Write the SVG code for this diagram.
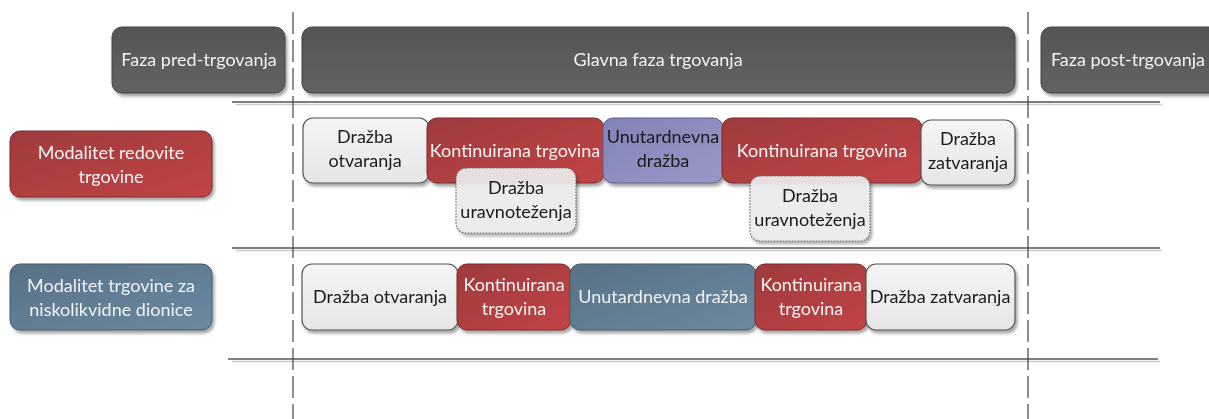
<svg xmlns="http://www.w3.org/2000/svg" width="1209" height="419" viewBox="0 0 1209 419">
<defs>
<linearGradient id="gDark" x1="0" y1="0" x2="0" y2="1"><stop offset="0" stop-color="#555"/><stop offset="1" stop-color="#626262"/></linearGradient>
<linearGradient id="gRed" x1="0" y1="0" x2="1" y2="1"><stop offset="0" stop-color="#9e3a3c"/><stop offset="1" stop-color="#c24446"/></linearGradient>
<linearGradient id="gBlue" x1="0" y1="0" x2="1" y2="1"><stop offset="0" stop-color="#577186"/><stop offset="1" stop-color="#6a8aa2"/></linearGradient>
<linearGradient id="gPurple" x1="0" y1="0" x2="1" y2="1"><stop offset="0" stop-color="#8282b6"/><stop offset="1" stop-color="#9898c8"/></linearGradient>
<linearGradient id="gLight" x1="0" y1="0" x2="0" y2="1"><stop offset="0" stop-color="#f4f4f4"/><stop offset="1" stop-color="#e6e6e6"/></linearGradient>
<filter id="sh" x="-10%" y="-10%" width="130%" height="140%"><feDropShadow dx="2" dy="3" stdDeviation="1.5" flood-color="#000" flood-opacity="0.35"/></filter>
</defs>
<style>
text{font-family:Lato,"Open Sans","Liberation Sans",sans-serif;font-size:18px;text-anchor:middle}
.w{fill:#f2f2f2}
.k{fill:#1a1a1a}
.dark{fill:url(#gDark);stroke:#444;stroke-width:1}
.red{fill:url(#gRed);stroke:#7a2c2e;stroke-width:1}
.blue{fill:url(#gBlue);stroke:#465a6a;stroke-width:1}
.purple{fill:url(#gPurple);stroke:#5e5e8a;stroke-width:1}
.light{fill:url(#gLight);stroke:#555;stroke-width:1.2}
.dot{fill:#eeeeee;fill-opacity:0.9;stroke:#666;stroke-width:1.2;stroke-dasharray:1.5 1.5}
.n{filter:url(#sh)}
.hl{stroke:#555;stroke-width:1.3}
.hs{stroke:#ccc;stroke-width:1.3}
.vl{stroke:#444;stroke-width:1.2;stroke-dasharray:22 6;fill:none}
</style>
<g id="connectors">
<line class="hs" x1="236" y1="104.5" x2="1162" y2="104.5"/>
<line class="hl" x1="232" y1="102" x2="1160" y2="102"/>
<line class="hs" x1="236" y1="250.5" x2="1162" y2="250.5"/>
<line class="hl" x1="232" y1="248" x2="1160" y2="248"/>
<line class="hs" x1="232" y1="361.5" x2="1160" y2="361.5"/>
<line class="hl" x1="228" y1="359" x2="1158" y2="359"/>
<line class="vl" x1="293" y1="12" x2="293" y2="419"/>
<line class="vl" x1="1028" y1="12" x2="1028" y2="419"/>
</g>
<g id="faza-pred" class="n"><rect class="dark" x="112" y="27" width="173" height="66" rx="10"/><text class="w" x="199" y="66">Faza pred-trgovanja</text></g>
<g id="glavna-faza" class="n"><rect class="dark" x="302" y="27" width="713" height="66" rx="10"/><text class="w" x="658" y="66">Glavna faza trgovanja</text></g>
<g id="faza-post" class="n"><rect class="dark" x="1041" y="27" width="180" height="66" rx="10"/><text class="w" x="1128" y="66">Faza post-trgovanja</text></g>

<g id="modalitet-redovite" class="n"><rect class="red" x="10" y="131" width="202" height="66" rx="10"/><text class="w" x="111" y="159">Modalitet redovite</text><text class="w" x="111" y="183">trgovine</text></g>
<g id="modalitet-nisko" class="n"><rect class="blue" x="10" y="264" width="202" height="66" rx="10"/><text class="w" x="111" y="292">Modalitet trgovine za</text><text class="w" x="111" y="316">niskolikvidne dionice</text></g>

<g id="r1-otvaranja" class="n"><rect class="light" x="303" y="118" width="126" height="65" rx="10"/><text class="k" x="365" y="143">Dražba</text><text class="k" x="365" y="167">otvaranja</text></g>
<g id="r1-kont1" class="n"><rect class="red" x="427" y="118" width="177" height="65" rx="10"/><text class="w" x="515" y="157">Kontinuirana trgovina</text></g>
<g id="r1-unutardnevna" class="n"><rect class="purple" x="603" y="118" width="120" height="65" rx="10"/><text class="k" x="663" y="143">Unutardnevna</text><text class="k" x="663" y="167">dražba</text></g>
<g id="r1-kont2" class="n"><rect class="red" x="722" y="118" width="200" height="65" rx="10"/><text class="w" x="822" y="157">Kontinuirana trgovina</text></g>
<g id="r1-zatvaranja" class="n"><rect class="light" x="921" y="120" width="94" height="65" rx="10"/><text class="k" x="968" y="145">Dražba</text><text class="k" x="968" y="169">zatvaranja</text></g>
<g id="r1-uravnotezenja1" class="n"><rect class="dot" x="456" y="168" width="120" height="65" rx="10"/><text class="k" x="516" y="194">Dražba</text><text class="k" x="516" y="218">uravnoteženja</text></g>
<g id="r1-uravnotezenja2" class="n"><rect class="dot" x="750" y="176" width="120" height="65" rx="10"/><text class="k" x="810" y="202">Dražba</text><text class="k" x="810" y="226">uravnoteženja</text></g>

<g id="r2-otvaranja" class="n"><rect class="light" x="302" y="264" width="156" height="66" rx="10"/><text class="k" x="380" y="303">Dražba otvaranja</text></g>
<g id="r2-kont1" class="n"><rect class="red" x="457" y="264" width="114" height="66" rx="10"/><text class="w" x="514" y="291">Kontinuirana</text><text class="w" x="514" y="315">trgovina</text></g>
<g id="r2-unutardnevna" class="n"><rect class="blue" x="570" y="264" width="186" height="66" rx="10"/><text class="w" x="663" y="303">Unutardnevna dražba</text></g>
<g id="r2-kont2" class="n"><rect class="red" x="755" y="264" width="112" height="66" rx="10"/><text class="w" x="811" y="291">Kontinuirana</text><text class="w" x="811" y="315">trgovina</text></g>
<g id="r2-zatvaranja" class="n"><rect class="light" x="866" y="264" width="149" height="66" rx="10"/><text class="k" x="940" y="303">Dražba zatvaranja</text></g>
</svg>
